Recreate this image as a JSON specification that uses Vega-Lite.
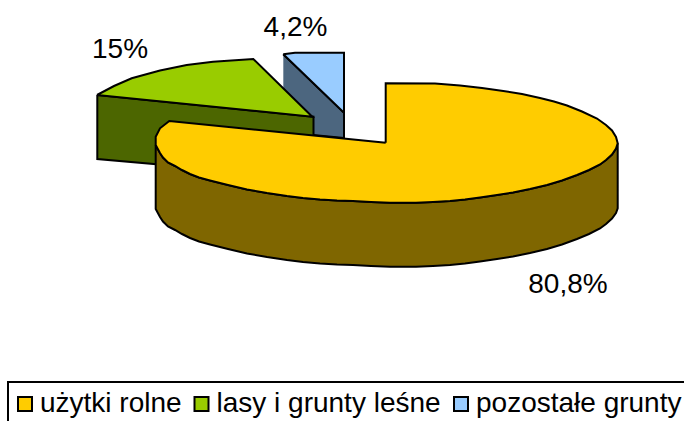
{"$schema":"https://vega.github.io/schema/vega-lite/v6.json","width":684,"height":421,"padding":0,"autosize":{"type":"none"},"background":"white",
"data":{"name":"outline"},
"datasets":{"outline":[
{"f":"pozostałe grunty bok","i":1,"x":283.3,"y":54.3},{"f":"pozostałe grunty bok","i":2,"x":344,"y":112.7},{"f":"pozostałe grunty bok","i":3,"x":344,"y":138},{"f":"pozostałe grunty bok","i":4,"x":313,"y":135},{"f":"pozostałe grunty bok","i":5,"x":283.3,"y":132},
{"f":"pozostałe grunty","i":1,"x":283.3,"y":54.3},{"f":"pozostałe grunty","i":2,"x":295,"y":52.7},{"f":"pozostałe grunty","i":3,"x":344,"y":52.7},{"f":"pozostałe grunty","i":4,"x":344,"y":112.7},{"f":"pozostałe grunty","i":5,"x":283.3,"y":54.3},
{"f":"lasy bok","i":1,"x":97.3,"y":95},{"f":"lasy bok","i":2,"x":313.5,"y":116.7},{"f":"lasy bok","i":3,"x":313.5,"y":178},{"f":"lasy bok","i":4,"x":97.3,"y":159},{"f":"lasy bok","i":5,"x":97.3,"y":95},
{"f":"lasy i grunty leśne","i":1,"x":97,"y":95},{"f":"lasy i grunty leśne","i":2,"x":114,"y":86},{"f":"lasy i grunty leśne","i":3,"x":131.7,"y":78.3},{"f":"lasy i grunty leśne","i":4,"x":160,"y":70.5},{"f":"lasy i grunty leśne","i":5,"x":186.7,"y":65},{"f":"lasy i grunty leśne","i":6,"x":213,"y":61.7},{"f":"lasy i grunty leśne","i":7,"x":253.3,"y":59},{"f":"lasy i grunty leśne","i":8,"x":312.3,"y":116.7},{"f":"lasy i grunty leśne","i":9,"x":97,"y":95},
{"f":"użytki bok","i":1,"x":155.7,"y":145},{"f":"użytki bok","i":2,"x":160,"y":153},{"f":"użytki bok","i":3,"x":163,"y":157.5},{"f":"użytki bok","i":4,"x":168,"y":162.5},{"f":"użytki bok","i":5,"x":175,"y":166},{"f":"użytki bok","i":6,"x":182,"y":170},{"f":"użytki bok","i":7,"x":190,"y":174},{"f":"użytki bok","i":8,"x":199,"y":177.5},{"f":"użytki bok","i":9,"x":210,"y":180.5},{"f":"użytki bok","i":10,"x":228,"y":185},{"f":"użytki bok","i":11,"x":247,"y":189.5},{"f":"użytki bok","i":12,"x":267,"y":193},{"f":"użytki bok","i":13,"x":287,"y":196},{"f":"użytki bok","i":14,"x":303,"y":198},{"f":"użytki bok","i":15,"x":320,"y":199.5},{"f":"użytki bok","i":16,"x":337,"y":200.5},{"f":"użytki bok","i":17,"x":353,"y":201},{"f":"użytki bok","i":18,"x":371,"y":202},{"f":"użytki bok","i":19,"x":390,"y":202.7},{"f":"użytki bok","i":20,"x":416,"y":202.7},{"f":"użytki bok","i":21,"x":433,"y":202},{"f":"użytki bok","i":22,"x":450,"y":201},{"f":"użytki bok","i":23,"x":465,"y":199.5},{"f":"użytki bok","i":24,"x":480,"y":197.5},{"f":"użytki bok","i":25,"x":497,"y":195},{"f":"użytki bok","i":26,"x":513,"y":192.5},{"f":"użytki bok","i":27,"x":530,"y":189},{"f":"użytki bok","i":28,"x":547,"y":185},{"f":"użytki bok","i":29,"x":562,"y":180.5},{"f":"użytki bok","i":30,"x":577,"y":175},{"f":"użytki bok","i":31,"x":589,"y":170},{"f":"użytki bok","i":32,"x":600,"y":164.5},{"f":"użytki bok","i":33,"x":606,"y":160},{"f":"użytki bok","i":34,"x":612,"y":154.5},{"f":"użytki bok","i":35,"x":616,"y":148.5},{"f":"użytki bok","i":36,"x":617.7,"y":143.3},
{"f":"użytki bok","i":37,"x":617.7,"y":208.3},{"f":"użytki bok","i":38,"x":616,"y":213},{"f":"użytki bok","i":39,"x":612,"y":218.5},{"f":"użytki bok","i":40,"x":606,"y":224},{"f":"użytki bok","i":41,"x":600,"y":228.5},{"f":"użytki bok","i":42,"x":589,"y":234},{"f":"użytki bok","i":43,"x":577,"y":239},{"f":"użytki bok","i":44,"x":562,"y":244.5},{"f":"użytki bok","i":45,"x":547,"y":249},{"f":"użytki bok","i":46,"x":530,"y":253},{"f":"użytki bok","i":47,"x":513,"y":256.5},{"f":"użytki bok","i":48,"x":497,"y":259},{"f":"użytki bok","i":49,"x":480,"y":261.5},{"f":"użytki bok","i":50,"x":465,"y":263.5},{"f":"użytki bok","i":51,"x":450,"y":265},{"f":"użytki bok","i":52,"x":433,"y":266},{"f":"użytki bok","i":53,"x":416,"y":266.7},{"f":"użytki bok","i":54,"x":390,"y":266.7},{"f":"użytki bok","i":55,"x":371,"y":266},{"f":"użytki bok","i":56,"x":353,"y":265},{"f":"użytki bok","i":57,"x":337,"y":264.5},{"f":"użytki bok","i":58,"x":320,"y":263.5},{"f":"użytki bok","i":59,"x":303,"y":262},{"f":"użytki bok","i":60,"x":287,"y":260},{"f":"użytki bok","i":61,"x":267,"y":257},{"f":"użytki bok","i":62,"x":247,"y":253.5},{"f":"użytki bok","i":63,"x":228,"y":249},{"f":"użytki bok","i":64,"x":210,"y":244.5},{"f":"użytki bok","i":65,"x":199,"y":241.5},{"f":"użytki bok","i":66,"x":190,"y":238},{"f":"użytki bok","i":67,"x":182,"y":234},{"f":"użytki bok","i":68,"x":175,"y":230},{"f":"użytki bok","i":69,"x":168,"y":226.5},{"f":"użytki bok","i":70,"x":163,"y":221.5},{"f":"użytki bok","i":71,"x":160,"y":217},{"f":"użytki bok","i":72,"x":155.7,"y":209},{"f":"użytki bok","i":73,"x":155.7,"y":145},
{"f":"użytki rolne","i":1,"x":385.7,"y":142.7},{"f":"użytki rolne","i":2,"x":385.7,"y":83.3},{"f":"użytki rolne","i":3,"x":435,"y":83.5},{"f":"użytki rolne","i":4,"x":460,"y":85.5},{"f":"użytki rolne","i":5,"x":482,"y":88},{"f":"użytki rolne","i":6,"x":503.3,"y":91},{"f":"użytki rolne","i":7,"x":522,"y":94},{"f":"użytki rolne","i":8,"x":540,"y":98},{"f":"użytki rolne","i":9,"x":554,"y":101.5},{"f":"użytki rolne","i":10,"x":567,"y":105.5},{"f":"użytki rolne","i":11,"x":582,"y":111.5},{"f":"użytki rolne","i":12,"x":597,"y":118.5},{"f":"użytki rolne","i":13,"x":606,"y":125},{"f":"użytki rolne","i":14,"x":612,"y":130.5},{"f":"użytki rolne","i":15,"x":616,"y":137},{"f":"użytki rolne","i":16,"x":617.7,"y":143.3},{"f":"użytki rolne","i":17,"x":616,"y":148.5},{"f":"użytki rolne","i":18,"x":612,"y":154.5},{"f":"użytki rolne","i":19,"x":606,"y":160},{"f":"użytki rolne","i":20,"x":600,"y":164.5},{"f":"użytki rolne","i":21,"x":589,"y":170},{"f":"użytki rolne","i":22,"x":577,"y":175},{"f":"użytki rolne","i":23,"x":562,"y":180.5},{"f":"użytki rolne","i":24,"x":547,"y":185},{"f":"użytki rolne","i":25,"x":530,"y":189},{"f":"użytki rolne","i":26,"x":513,"y":192.5},{"f":"użytki rolne","i":27,"x":497,"y":195},{"f":"użytki rolne","i":28,"x":480,"y":197.5},{"f":"użytki rolne","i":29,"x":465,"y":199.5},{"f":"użytki rolne","i":30,"x":450,"y":201},{"f":"użytki rolne","i":31,"x":433,"y":202},{"f":"użytki rolne","i":32,"x":416,"y":202.7},{"f":"użytki rolne","i":33,"x":390,"y":202.7},{"f":"użytki rolne","i":34,"x":371,"y":202},{"f":"użytki rolne","i":35,"x":353,"y":201},{"f":"użytki rolne","i":36,"x":337,"y":200.5},{"f":"użytki rolne","i":37,"x":320,"y":199.5},{"f":"użytki rolne","i":38,"x":303,"y":198},{"f":"użytki rolne","i":39,"x":287,"y":196},{"f":"użytki rolne","i":40,"x":267,"y":193},{"f":"użytki rolne","i":41,"x":247,"y":189.5},{"f":"użytki rolne","i":42,"x":228,"y":185},{"f":"użytki rolne","i":43,"x":210,"y":180.5},{"f":"użytki rolne","i":44,"x":199,"y":177.5},{"f":"użytki rolne","i":45,"x":190,"y":174},{"f":"użytki rolne","i":46,"x":182,"y":170},{"f":"użytki rolne","i":47,"x":175,"y":166},{"f":"użytki rolne","i":48,"x":168,"y":162.5},{"f":"użytki rolne","i":49,"x":163,"y":157.5},{"f":"użytki rolne","i":50,"x":160,"y":153},{"f":"użytki rolne","i":51,"x":155.7,"y":145},{"f":"użytki rolne","i":52,"x":155.7,"y":136.7},{"f":"użytki rolne","i":53,"x":160,"y":128.3},{"f":"użytki rolne","i":54,"x":169.3,"y":121},{"f":"użytki rolne","i":55,"x":385.7,"y":142.7}
],
"labels":[{"t":"15%","x":120,"y":58},{"t":"4,2%","x":295.5,"y":36},{"t":"80,8%","x":568,"y":293}]},
"layer":[
{"mark":{"type":"line","stroke":"black","strokeWidth":2,"strokeJoin":"miter","clip":false},
"encoding":{
"x":{"field":"x","type":"quantitative","scale":{"domain":[0,684],"range":[0,684],"nice":false,"zero":false},"axis":null},
"y":{"field":"y","type":"quantitative","scale":{"domain":[0,421],"range":[0,421],"nice":false,"zero":false},"axis":null},
"fill":{"field":"f","type":"nominal","scale":{"domain":["użytki rolne","lasy i grunty leśne","pozostałe grunty","użytki bok","lasy bok","pozostałe grunty bok"],"range":["#ffcc00","#99cc00","#99ccff","#7f6600","#4c6600","#4c667f"]},
"legend":{"values":["użytki rolne","lasy i grunty leśne","pozostałe grunty"],"orient":"none","legendX":8,"legendY":382,"direction":"horizontal","columns":3,"title":null,"padding":8,"strokeColor":"black","symbolType":"square","symbolSize":196,"symbolStrokeColor":"black","symbolStrokeWidth":2,"symbolOpacity":1,"labelFont":"Liberation Sans","labelFontSize":28,"labelColor":"black","labelLimit":400,"labelOffset":1,"columnPadding":8.5,"symbolOffset":-5}},
"order":{"field":"i","type":"quantitative"}}},
{"data":{"name":"labels"},"mark":{"type":"text","font":"Liberation Sans","fontSize":28,"color":"black","baseline":"alphabetic","align":"center"},
"encoding":{"x":{"field":"x","type":"quantitative"},"y":{"field":"y","type":"quantitative"},"text":{"field":"t"}}}
],
"config":{"view":{"stroke":null},"legend":{"strokeWidth":2}}}
